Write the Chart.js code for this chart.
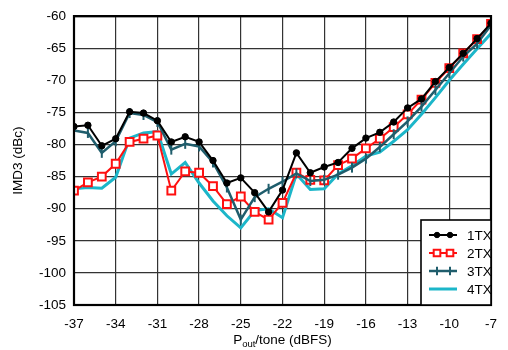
<!DOCTYPE html>
<html>
<head>
<meta charset="utf-8">
<script src="https://cdn.jsdelivr.net/npm/chart.js@4/dist/chart.umd.min.js"></script>
<style>
  html, body { margin: 0; padding: 0; background: #fff; }
  #wrap { width: 508px; height: 350px; }
</style>
</head>
<body>
<div id="wrap"><canvas id="chart" width="508" height="350"></canvas></div>
<script>
const pout = [-37, -36, -35, -34, -33, -32, -31, -30, -29, -28, -27, -26, -25, -24, -23, -22,
              -21, -20, -19, -18, -17, -16, -15, -14, -13, -12, -11, -10, -9, -8, -7];

const tx1 = [-77.2, -77.0, -80.2, -79.1, -74.9, -75.1, -76.3, -79.6, -78.8, -79.6, -82.5, -86.0,
             -85.2, -87.5, -90.5, -87.1, -81.3, -84.4, -83.5, -82.8, -80.6, -79.0, -78.1, -76.5,
             -74.3, -72.9, -70.2, -68.0, -65.8, -63.5, -61.1];
const tx2 = [-87.2, -85.9, -85.0, -83.0, -79.6, -79.1, -78.6, -87.2, -84.2, -84.4, -86.5, -89.3,
             -88.1, -90.5, -91.7, -89.1, -84.4, -85.5, -85.6, -83.2, -82.2, -80.6, -79.1, -77.3,
             -75.3, -73.0, -70.4, -68.1, -65.8, -63.6, -61.2];
const tx3 = [-77.8, -78.2, -81.3, -79.5, -75.1, -75.4, -76.5, -80.8, -79.9, -80.3, -82.8, -86.7,
             -91.7, -88.2, -86.9, -85.8, -84.5, -85.7, -85.5, -84.7, -83.6, -82.2, -80.4, -78.4,
             -76.4, -74.1, -71.5, -68.9, -66.3, -64.3, -61.4];
const tx4 = [-86.9, -86.7, -86.8, -85.1, -79.0, -78.2, -78.0, -84.6, -82.8, -86.0, -88.8, -91.1,
             -93.0, -90.3, -90.0, -91.4, -84.6, -87.0, -86.9, -84.6, -83.3, -81.8, -81.2, -79.5,
             -77.7, -75.3, -72.7, -70.0, -67.5, -65.1, -62.7];

const xTicks = [-37, -34, -31, -28, -25, -22, -19, -16, -13, -10, -7];
const yTicks = [-60, -65, -70, -75, -80, -85, -90, -95, -100, -105];
const seriesNames = ['1TX', '2TX', '3TX', '4TX'];

const font = 'Liberation Sans, Arial, Helvetica, sans-serif';
const black = '#000000';
const red = '#ff1010';
const teal = '#1f5d6c';
const cyan = '#1cb6c9';

const pts = (ys) => pout.map((x, i) => ({ x: x, y: ys[i] }));

const styles = [
  { color: black, width: 2, pointStyle: 'circle', radius: 3.2, bg: black, bw: 1, rot: 0 },
  { color: red, width: 2, pointStyle: 'rect', radius: 5.5, bg: '#ffffff', bw: 2, rot: 0 },
  { color: teal, width: 2.5, pointStyle: 'line', radius: 5, bg: teal, bw: 2, rot: 90 },
  { color: cyan, width: 3, pointStyle: false, radius: 0, bg: cyan, bw: 0, rot: 0 }
];

const datasets = [tx1, tx2, tx3, tx4].map((d, i) => ({
  label: seriesNames[i],
  data: pts(d),
  borderColor: styles[i].color,
  borderWidth: styles[i].width,
  pointStyle: styles[i].pointStyle,
  pointRadius: styles[i].radius,
  pointBackgroundColor: styles[i].bg,
  pointBorderColor: styles[i].color,
  pointBorderWidth: styles[i].bw,
  pointRotation: styles[i].rot,
  tension: 0,
  order: [0, 2, 1, 3][i]
}));

// frame, axis titles and legend box
const decor = {
  id: 'decor',
  afterDraw(chart) {
    const ctx = chart.ctx;
    const a = chart.chartArea;
    ctx.save();
    ctx.strokeStyle = '#000';
    ctx.lineWidth = 2.2;
    ctx.strokeRect(a.left, a.top, a.right - a.left, a.bottom - a.top);

    // legend
    const lx = 421, ly = 220;
    ctx.fillStyle = '#fff';
    ctx.fillRect(lx, ly, a.right - lx, a.bottom - ly);
    ctx.lineWidth = 1.6;
    ctx.strokeRect(lx, ly, a.right - lx, a.bottom - ly);
    ctx.font = '13.5px ' + font;
    ctx.textBaseline = 'middle';
    seriesNames.forEach((name, i) => {
      const y = 235 + i * 18;
      const s = styles[i];
      ctx.strokeStyle = s.color;
      ctx.lineWidth = s.width;
      ctx.beginPath();
      ctx.moveTo(429, y);
      ctx.lineTo(457, y);
      ctx.stroke();
      if (s.pointStyle) {
        [437, 450].forEach(px => {
          ctx.fillStyle = s.bg;
          ctx.strokeStyle = s.color;
          ctx.lineWidth = s.bw;
          Chart.helpers.drawPoint(ctx, { pointStyle: s.pointStyle, radius: s.radius * 0.85, rotation: s.rot, borderWidth: s.bw }, px, y);
        });
      }
      ctx.fillStyle = '#000';
      ctx.textAlign = 'left';
      ctx.fillText(name, 467, y + 1);
    });

    // y title
    ctx.fillStyle = '#000';
    ctx.font = '13.5px ' + font;
    ctx.save();
    ctx.translate(18, (a.top + a.bottom) / 2);
    ctx.rotate(-Math.PI / 2);
    ctx.textAlign = 'center';
    ctx.textBaseline = 'middle';
    ctx.fillText('IMD3 (dBc)', 0, 0);
    ctx.restore();

    // x title with subscript
    const parts = [['P', 13.5, 0], ['out', 9.5, 4], ['/tone (dBFS)', 13.5, 0]];
    let total = 0;
    parts.forEach(p => { ctx.font = p[1] + 'px ' + font; total += ctx.measureText(p[0]).width; });
    let x = (a.left + a.right) / 2 - total / 2;
    ctx.textAlign = 'left';
    ctx.textBaseline = 'middle';
    parts.forEach(p => {
      ctx.font = p[1] + 'px ' + font;
      ctx.fillText(p[0], x, 340 + p[2]);
      x += ctx.measureText(p[0]).width;
    });
    ctx.restore();
  }
};

new Chart(document.getElementById('chart'), {
  type: 'line',
  data: { datasets: datasets },
  options: {
    responsive: false,
    animation: false,
    layout: { padding: { left: 0, right: 5, top: 14, bottom: 0 } },
    scales: {
      x: {
        type: 'linear',
        min: -37,
        max: -7,
        afterBuildTicks: (scale) => { scale.ticks = xTicks.map(v => ({ value: v })); },
        afterFit: (scale) => { scale.height = 45; },
        grid: { color: '#333', lineWidth: 1.2, drawTicks: false },
        border: { display: false },
        ticks: { color: '#000', font: { family: font, size: 13.5 }, padding: 11, maxRotation: 0, autoSkip: false }
      },
      y: {
        min: -105,
        max: -60,
        afterBuildTicks: (scale) => { scale.ticks = yTicks.map(v => ({ value: v })); },
        afterFit: (scale) => { scale.width = 74; },
        grid: { color: '#333', lineWidth: 1.2, drawTicks: false },
        border: { display: false },
        ticks: { color: '#000', font: { family: font, size: 13.5 }, padding: 8 }
      }
    },
    plugins: {
      legend: { display: false },
      tooltip: { enabled: false }
    }
  },
  plugins: [decor]
});
</script>
</body>
</html>
